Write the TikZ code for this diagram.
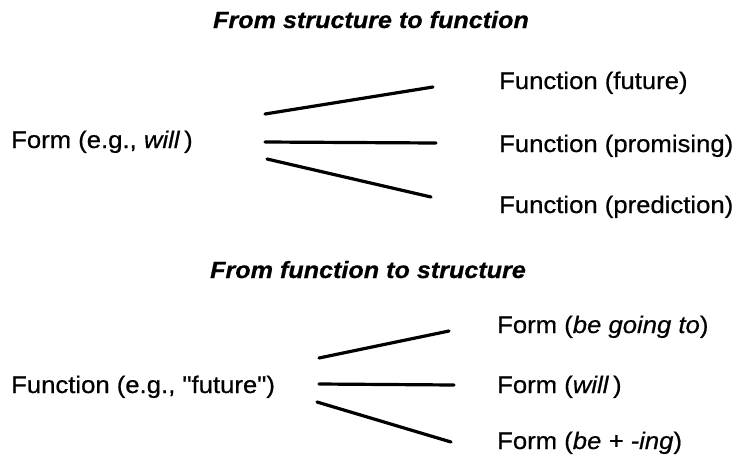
\documentclass[tikz,border=0pt]{standalone}
\usepackage{fontspec}
\setmainfont{Liberation Sans}[FakeStretch=1.07,FakeBold=0.6]
\newfontfamily\qf{Liberation Sans}[FakeStretch=1.07,FakeBold=0.6]
\begin{document}
\begin{tikzpicture}[x=1pt,y=-1pt,
  lbl/.style={anchor=base west,inner sep=0pt,font=\fontsize{24}{28}\selectfont},
  ttl/.style={anchor=base,inner sep=0pt,font=\fontsize{23.5}{27}\selectfont\bfseries\itshape},
  conn/.style={line width=3.2pt,line cap=round}]
\useasboundingbox (0,0) rectangle (741,461);
% top half
\node[ttl] (t1) at (371,28) {From structure to function};
\node[lbl] (form) at (11,148) {Form (e.g., \textit{will}\,)};
\node[lbl] (f1) at (499,89) {Function (future)};
\node[lbl] (f2) at (499,152) {Function (promising)};
\node[lbl] (f3) at (499,213) {Function (prediction)};
\coordinate (a1) at (265,114); \coordinate (b1) at (433,87);
\coordinate (a2) at (265,142); \coordinate (b2) at (436,143);
\coordinate (a3) at (267,159); \coordinate (b3) at (431,197);
\draw[conn] (a1) -- (b1);
\draw[conn] (a2) -- (b2);
\draw[conn] (a3) -- (b3);
% bottom half
\node[ttl] (t2) at (368,278) {From function to structure};
\node[lbl] (func) at (11,393) {Function (e.g., {\qf"}future{\qf"})};
\node[lbl] (g1) at (497,333) {Form (\textit{be going to})};
\node[lbl] (g2) at (497,393) {Form (\textit{will}\,)};
\node[lbl] (g3) at (497,449) {Form (\textit{be + -ing})};
\coordinate (c1) at (319,358); \coordinate (d1) at (449,331);
\coordinate (c2) at (319,384); \coordinate (d2) at (454,385);
\coordinate (c3) at (317,402); \coordinate (d3) at (451,442);
\draw[conn] (c1) -- (d1);
\draw[conn] (c2) -- (d2);
\draw[conn] (c3) -- (d3);
\end{tikzpicture}
\end{document}
